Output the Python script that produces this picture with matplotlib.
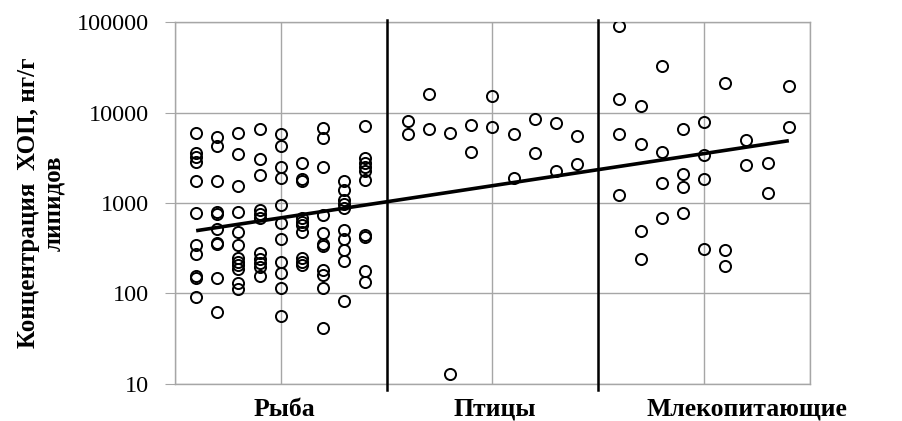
import numpy as np
import matplotlib.pyplot as plt

# POP concentrations (ng/g lipid) per sampling column, three animal groups
fish_cols = [
    [5900, 3600, 3250, 2850, 1750, 780, 340, 275, 157, 147, 91],
    [5400, 4270, 1750, 800, 755, 510, 365, 350, 147, 63],
    [5900, 3450, 1530, 795, 475, 340, 245, 223, 205, 187, 132, 111],
    [6600, 3050, 2020, 840, 755, 680, 280, 241, 217, 196, 156],
    [5850, 4250, 2500, 1900, 955, 600, 397, 222, 167, 116, 57],
    [2800, 1840, 1760, 675, 617, 565, 482, 244, 223, 204],
    [6750, 5200, 2500, 735, 466, 352, 331, 180, 160, 114, 42],
    [1750, 1390, 1080, 975, 880, 503, 400, 303, 229, 83],
    [7100, 3140, 2770, 2520, 2240, 1790, 443, 416, 178, 135],
]
bird_cols = [
    [8100, 5750],
    [16000, 6600],
    [5900, 12.9],
    [7300, 3650],
    [15300, 6850],
    [5750, 1870],
    [8400, 3550],
    [7600, 2280],
    [5500, 2680],
]
mammal_cols = [
    [90000, 14000, 5800, 1230],
    [11900, 4500, 490, 240],
    [32900, 3700, 1650, 690],
    [6600, 2080, 1510, 780],
    [7900, 3400, 1830, 310],
    [21300, 303, 203],
    [4950, 2630],
    [2750, 1280],
    [19800, 6950],
]

groups = ["Рыба", "Птицы", "Млекопитающие"]
group_cols = [fish_cols, bird_cols, mammal_cols]

# exponential trend (straight on log axis), end points
trend_x = [0.2, 5.8]
trend_y = [494, 4880]

yticks = [10, 100, 1000, 10000, 100000]

plt.rcParams['font.family'] = ['Liberation Serif', 'DejaVu Serif']
grid_col = '#a6a6a6'

fig = plt.figure(figsize=(9.02, 4.21), dpi=100)
ax = fig.add_axes([0.194, 0.088, 0.704, 0.8597])

# scatter of each group, 9 columns spaced 0.2 apart inside a 2-unit block
for g, cols in enumerate(group_cols):
    for k, vals in enumerate(cols):
        xpos = 2 * g + 0.2 * (k + 1)
        ax.plot([xpos] * len(vals), vals, linestyle='none', marker='o',
                ms=8, mfc='none', mec='black', mew=1.4, zorder=3)

ax.plot(trend_x, trend_y, color='black', lw=2.6, solid_capstyle='butt', zorder=4)

# group separators
for xs in (2, 4):
    ax.axvline(xs, ymin=-0.017, ymax=1.005, color='black', lw=1.8,
               clip_on=False, zorder=5)

ax.set_yscale('log')
ax.set_ylim(10, 100000)
ax.set_xlim(0, 6)
ax.set_yticks(yticks)
ax.set_yticklabels([str(v) for v in yticks], fontsize=17.5)
ax.minorticks_off()
ax.set_xticks(np.arange(0, 7))
ax.tick_params(axis='x', length=0, labelbottom=False)
ax.tick_params(axis='y', length=7, color=grid_col, pad=12)

ax.grid(True, color=grid_col, lw=1.0)
for s in ax.spines.values():
    s.set_color(grid_col)
    s.set_linewidth(1.0)

ax.set_ylabel("Концентрация  ХОП, нг/г\nлипидов", fontsize=18,
              fontweight='bold', multialignment='center', linespacing=1.15,
              labelpad=8)

# group names under the axis
label_x = [1.03, 3.02, 5.4]
for name, lx in zip(groups, label_x):
    ax.text(lx, -0.07, name, transform=ax.get_xaxis_transform(),
            ha='center', va='center', fontsize=18.5, fontweight='bold')

plt.savefig("out.png", dpi=100)
